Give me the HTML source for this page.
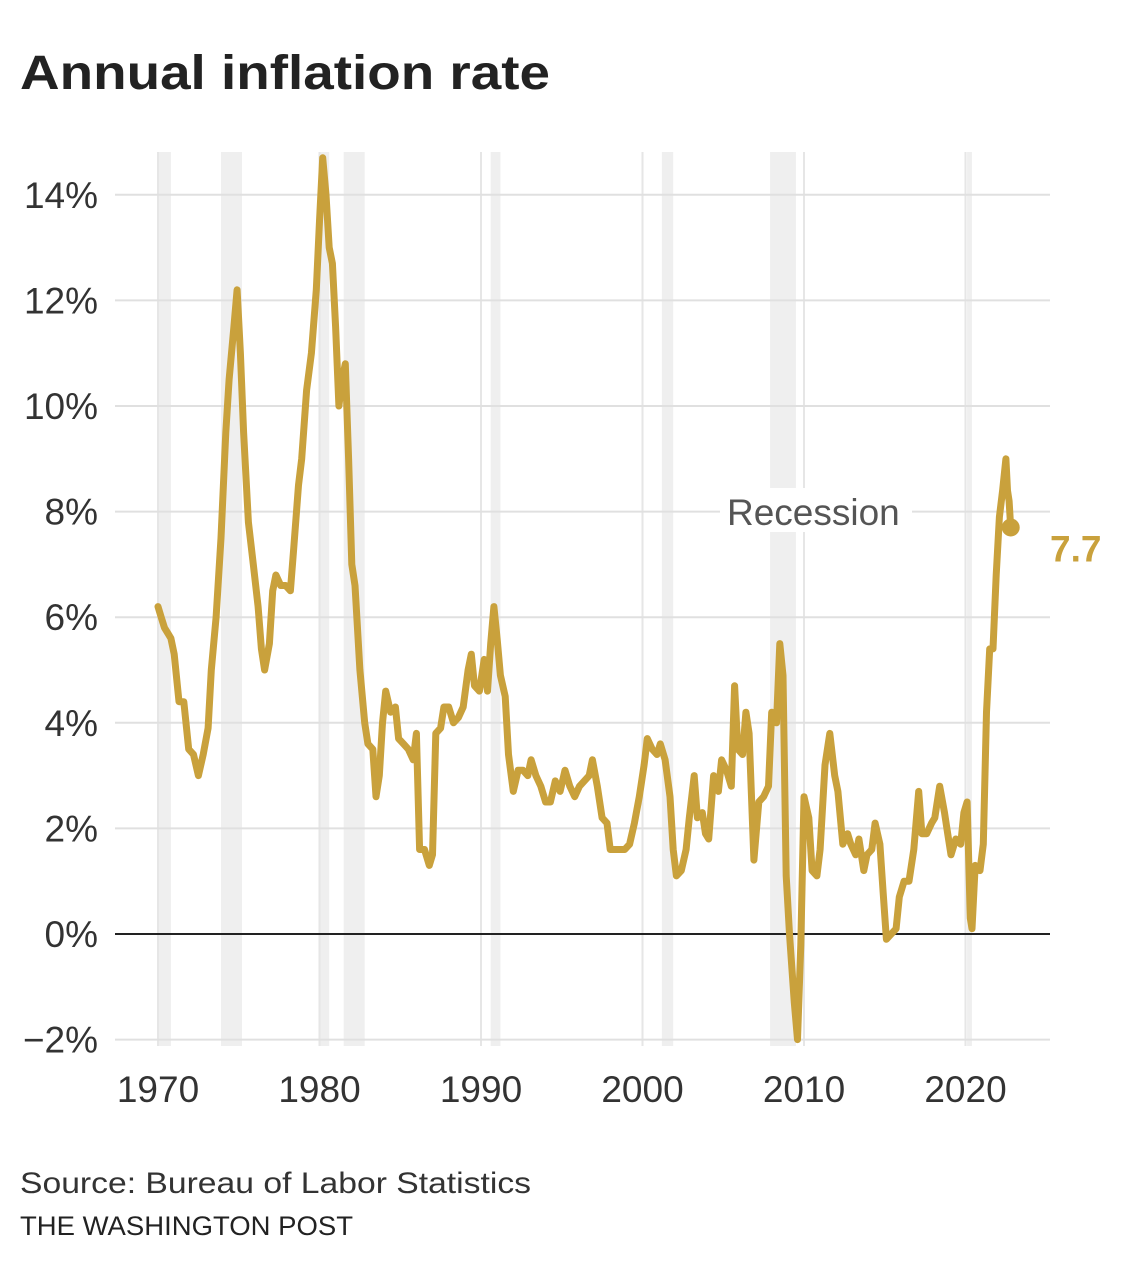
<!DOCTYPE html>
<html><head><meta charset="utf-8">
<style>
body{margin:0;background:#fff;width:1131px;height:1278px;overflow:hidden;font-family:"Liberation Sans",sans-serif;}
</style></head>
<body>
<svg id="chart" width="1131" height="1278" xmlns="http://www.w3.org/2000/svg" style="position:absolute;left:0;top:0">
<text x="20" y="89" font-size="48" font-weight="bold" fill="#222" textLength="530" lengthAdjust="spacingAndGlyphs">Annual inflation rate</text>
<g id="bands"></g><g id="grid"></g><g id="line"></g><g id="labels"></g>
<text x="20" y="1193" font-size="30" fill="#333" textLength="511" lengthAdjust="spacingAndGlyphs">Source: Bureau of Labor Statistics</text>
<text x="20" y="1235" font-size="27" fill="#222" textLength="333" lengthAdjust="spacingAndGlyphs">THE WASHINGTON POST</text>
</svg>
<script>
const years=[1970.0,1970.2,1970.4,1970.6,1970.8,1971.0,1971.3,1971.6,1971.9,1972.2,1972.5,1972.8,1973.1,1973.3,1973.6,1973.9,1974.2,1974.4,1974.7,1974.9,1975.1,1975.3,1975.6,1975.9,1976.2,1976.4,1976.6,1976.9,1977.1,1977.3,1977.6,1977.9,1978.2,1978.4,1978.7,1978.9,1979.2,1979.5,1979.8,1980.0,1980.2,1980.4,1980.6,1980.8,1981.0,1981.2,1981.4,1981.6,1981.8,1982.0,1982.2,1982.5,1982.8,1983.0,1983.3,1983.5,1983.7,1983.9,1984.1,1984.4,1984.7,1984.9,1985.2,1985.5,1985.8,1986.0,1986.2,1986.5,1986.8,1987.0,1987.2,1987.5,1987.7,1988.0,1988.3,1988.6,1988.9,1989.2,1989.4,1989.6,1989.9,1990.2,1990.4,1990.6,1990.8,1991.0,1991.2,1991.5,1991.7,1992.0,1992.3,1992.6,1992.9,1993.1,1993.4,1993.7,1994.0,1994.3,1994.6,1994.9,1995.2,1995.5,1995.8,1996.1,1996.4,1996.7,1996.9,1997.2,1997.5,1997.8,1998.0,1998.3,1998.6,1998.9,1999.2,1999.5,1999.8,2000.1,2000.3,2000.6,2000.9,2001.1,2001.4,2001.7,2001.9,2002.1,2002.4,2002.7,2002.9,2003.2,2003.4,2003.7,2003.9,2004.1,2004.4,2004.7,2004.9,2005.2,2005.5,2005.7,2005.9,2006.2,2006.4,2006.6,2006.9,2007.2,2007.5,2007.8,2008.0,2008.3,2008.5,2008.7,2008.9,2009.1,2009.4,2009.6,2009.8,2010.0,2010.3,2010.5,2010.8,2011.0,2011.3,2011.6,2011.9,2012.1,2012.4,2012.7,2012.9,2013.2,2013.4,2013.7,2013.9,2014.2,2014.4,2014.7,2014.9,2015.1,2015.4,2015.7,2015.9,2016.2,2016.5,2016.8,2017.1,2017.3,2017.6,2017.9,2018.1,2018.4,2018.7,2018.9,2019.1,2019.4,2019.7,2019.9,2020.1,2020.3,2020.4,2020.6,2020.9,2021.1,2021.3,2021.5,2021.7,2021.9,2022.1,2022.3,2022.5,2022.6,2022.7,2022.8];
const rates=[6.2,6.0,5.8,5.7,5.6,5.3,4.4,4.4,3.5,3.4,3.0,3.4,3.9,5.0,6.0,7.5,9.5,10.5,11.5,12.2,11.0,9.5,7.8,7.0,6.2,5.4,5.0,5.5,6.5,6.8,6.6,6.6,6.5,7.3,8.5,9.0,10.3,11.0,12.2,13.5,14.7,14.0,13.0,12.7,11.5,10.0,10.5,10.8,9.0,7.0,6.6,5.0,4.0,3.6,3.5,2.6,3.0,4.0,4.6,4.2,4.3,3.7,3.6,3.5,3.3,3.8,1.6,1.6,1.3,1.5,3.8,3.9,4.3,4.3,4.0,4.1,4.3,5.0,5.3,4.7,4.6,5.2,4.6,5.5,6.2,5.6,4.9,4.5,3.4,2.7,3.1,3.1,3.0,3.3,3.0,2.8,2.5,2.5,2.9,2.7,3.1,2.8,2.6,2.8,2.9,3.0,3.3,2.8,2.2,2.1,1.6,1.6,1.6,1.6,1.7,2.1,2.6,3.2,3.7,3.5,3.4,3.6,3.3,2.6,1.6,1.1,1.2,1.6,2.2,3.0,2.2,2.3,1.9,1.8,3.0,2.7,3.3,3.1,2.8,4.7,3.5,3.4,4.2,3.8,1.4,2.5,2.6,2.8,4.2,4.0,5.5,4.9,1.1,0.0,-1.3,-2.0,-0.2,2.6,2.2,1.2,1.1,1.6,3.2,3.8,3.0,2.7,1.7,1.9,1.7,1.5,1.8,1.2,1.5,1.6,2.1,1.7,0.8,-0.1,0.0,0.1,0.7,1.0,1.0,1.6,2.7,1.9,1.9,2.1,2.2,2.8,2.3,1.9,1.5,1.8,1.7,2.3,2.5,0.3,0.1,1.3,1.2,1.7,4.2,5.4,5.4,6.8,7.9,8.4,9.0,8.4,8.2,7.7];
const recStart=[1970.0,1973.9,1980.0,1981.5,1990.6,2001.2,2007.9,2020.1];
const recEnd=[1970.8,1975.2,1980.6,1982.8,1991.2,2001.9,2009.5,2020.4];
const yTicks=[-2,0,2,4,6,8,10,12,14];
const yTickLabels=["\u22122%","0%","2%","4%","6%","8%","10%","12%","14%"];
const xTicks=[1970,1980,1990,2000,2010,2020];
const xTickLabels=["1970","1980","1990","2000","2010","2020"];
const lastLabel="7.7";

const X=y=>158+(y-1970)*16.15;
const Y=v=>934-v*52.8;
const NS="http://www.w3.org/2000/svg";
function mk(parent,tag,attrs){const e=document.createElementNS(NS,tag);for(const k in attrs)e.setAttribute(k,attrs[k]);document.getElementById(parent).appendChild(e);return e;}
recStart.forEach((s,i)=>{
  const r=mk('bands','rect',{x:X(s),y:152,width:Math.max(4,X(recEnd[i])-X(s)),height:894,fill:'#efefef'});
  
  
});
xTicks.forEach((t,i)=>{
  const l=mk('grid','line',{x1:X(t),x2:X(t),y1:152,y2:1046,stroke:'#e6e6e6','stroke-width':2});
  
  
  const tx=mk('labels','text',{x:X(t),y:1102,'font-size':37,fill:'#333','text-anchor':'middle'});
  tx.textContent=xTickLabels[i];
  
  
});
yTicks.forEach((t,i)=>{
  const l=mk('grid','line',{x1:115,x2:1050,y1:Y(t),y2:Y(t),stroke:t===0?'#222':'#e0e0e0','stroke-width':2});
  
  
  const tx=mk('labels','text',{x:98,y:Y(t)+13,'font-size':37,fill:'#333','text-anchor':'end'});
  tx.textContent=yTickLabels[i];
  
  
});
const bg=mk('labels','rect',{x:720,y:488,width:192,height:44,fill:'#fff'});


const rl=mk('labels','text',{x:727,y:525,'font-size':37,fill:'#555'});
rl.textContent='Recession';


const d=years.map((y,i)=>(i?'L':'M')+X(y).toFixed(1)+','+Y(rates[i]).toFixed(1)).join('');
const p=mk('line','path',{d:d,fill:'none',stroke:'#c9a13c','stroke-width':7,'stroke-linejoin':'round','stroke-linecap':'round'});


const n=years.length-1;
const dot=mk('line','circle',{cx:X(years[n]),cy:Y(rates[n]),r:9,fill:'#c9a13c'});


const vl=mk('labels','text',{x:1050,y:Y(rates[n])+34,'font-size':37,'font-weight':'bold',fill:'#c9a13c'});
vl.textContent=lastLabel;


</script>
</body></html>
